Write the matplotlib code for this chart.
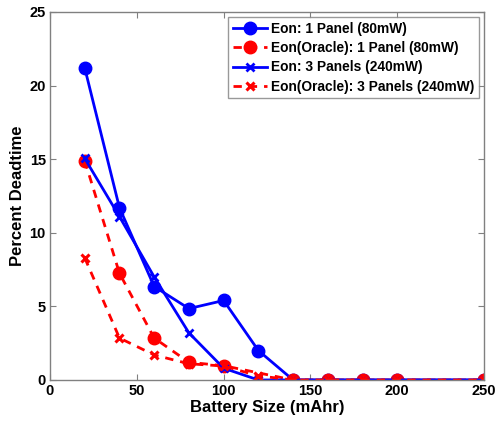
import matplotlib
matplotlib.use("Agg")
import matplotlib.pyplot as plt

plt.rcParams['font.family'] = ['Liberation Sans', 'DejaVu Sans']
plt.rcParams['font.weight'] = 'bold'

battery = [20, 40, 60, 80, 100, 120, 140, 160, 180, 200, 250]
battery_oracle_1p = [20, 40, 60, 80, 100, 140, 160, 180, 200, 250]
eon_1p = [21.2, 11.7, 6.35, 4.85, 5.4, 2.0, 0, 0, 0, 0, 0]
oracle_1p = [14.9, 7.25, 2.85, 1.2, 0.97, 0, 0, 0, 0, 0]
eon_3p = [15.05, 11.1, 7.0, 3.2, 0.8, 0, 0, 0, 0, 0, 0]
oracle_3p = [8.3, 2.85, 1.7, 1.1, 0.95, 0.28, 0, 0, 0, 0, 0]

labels = ["Eon: 1 Panel (80mW)", "Eon(Oracle): 1 Panel (80mW)",
          "Eon: 3 Panels (240mW)", "Eon(Oracle): 3 Panels (240mW)"]

fig = plt.figure(figsize=(4.95, 4.23), dpi=100)
ax = fig.add_axes([0.101, 0.1017, 0.877, 0.870])

ax.plot(battery, eon_1p, color='blue', lw=2, ls='-', marker='o', ms=9, label=labels[0])
ax.plot(battery_oracle_1p, oracle_1p, color='red', lw=2, ls='--', dashes=(3, 2.5), marker='o', ms=9, label=labels[1])
ax.plot(battery, eon_3p, color='blue', lw=2, ls='-', marker='x', ms=6, mew=2, label=labels[2])
ax.plot(battery, oracle_3p, color='red', lw=2, ls='--', dashes=(3, 2.5), marker='x', ms=6, mew=2.2, label=labels[3])

ax.set_xlim(0, 250)
ax.set_ylim(0, 25)
ax.set_xticks([0, 50, 100, 150, 200, 250])
ax.set_yticks([0, 5, 10, 15, 20, 25])
ax.tick_params(direction='in', top=True, right=True, length=4, color='#808080',
               labelsize=10.5, pad=3)
for lab in ax.get_xticklabels() + ax.get_yticklabels():
    lab.set_fontweight('bold')
for s in ax.spines.values():
    s.set_color('#808080')
    s.set_linewidth(1)

ax.set_xlabel("Battery Size (mAhr)", fontsize=12, fontweight='bold', labelpad=1)
ax.set_ylabel("Percent Deadtime", fontsize=12, fontweight='bold', labelpad=3)

leg = ax.legend(loc='upper right', prop={'weight': 'bold', 'size': 9.9},
                frameon=True, fancybox=False, edgecolor='#808080', handlelength=2.5,
                labelspacing=0.38, handletextpad=0.3, borderpad=0.35,
                bbox_to_anchor=(0.989, 0.986), borderaxespad=0)
leg.get_frame().set_linewidth(1)

fig.savefig("out.png", dpi=100)
